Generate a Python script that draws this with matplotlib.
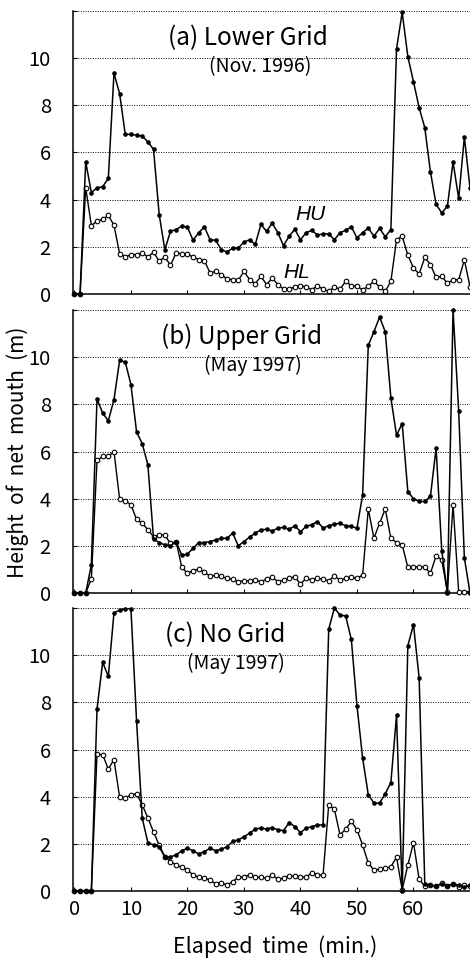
import numpy as np
import matplotlib.pyplot as plt

plt.rcParams['font.family'] = ['Noto Sans CJK JP', 'DejaVu Sans']

# height of the net mouth (m), one reading per minute
# HU = upper edge, HL = lower edge
hu_a = [0, 0, 5.6, 4.3, 4.5, 4.55, 4.9, 9.36, 8.5, 6.77, 6.77, 6.73, 6.7, 6.45, 6.13,
        3.37, 1.88, 2.66, 2.73, 2.88, 2.83, 2.28, 2.6, 2.85, 2.3, 2.28, 1.88, 1.78,
        1.95, 1.95, 2.2, 2.3, 2.1, 2.95, 2.66, 3.0, 2.6, 2.05, 2.45, 2.75, 2.3, 2.6,
        2.7, 2.5, 2.55, 2.55, 2.3, 2.6, 2.7, 2.85, 2.38, 2.6, 2.8, 2.45, 2.78, 2.43,
        2.73, 10.4, 11.94, 10.07, 9.0, 7.9, 7.05, 5.18, 3.8, 3.44, 3.72, 5.6, 4.05,
        6.66, 4.5]
hl_a = [0, 0, 4.5, 2.9, 3.09, 3.16, 3.33, 2.92, 1.71, 1.57, 1.67, 1.67, 1.74, 1.57,
        1.77, 1.39, 1.57, 1.22, 1.74, 1.71, 1.7, 1.56, 1.46, 1.42, 0.89, 0.96, 0.82,
        0.64, 0.61, 0.58, 0.96, 0.61, 0.44, 0.75, 0.4, 0.68, 0.4, 0.21, 0.21, 0.3,
        0.35, 0.3, 0.18, 0.35, 0.2, 0.11, 0.3, 0.2, 0.54, 0.35, 0.33, 0.18, 0.33,
        0.54, 0.3, 0.11, 0.54, 2.3, 2.45, 1.65, 1.1, 0.85, 1.55, 1.25, 0.7, 0.75,
        0.45, 0.6, 0.6, 1.45, 0.3]

hu_b = [0, 0, 0, 1.2, 8.23, 7.63, 7.3, 8.2, 9.86, 9.79, 8.84, 6.83, 6.33, 5.44,
        2.3, 2.14, 2.04, 2.0, 2.18, 1.6, 1.65, 1.9, 2.14, 2.14, 2.18, 2.25, 2.32,
        2.32, 2.54, 2.0, 2.18, 2.37, 2.54, 2.68, 2.7, 2.63, 2.75, 2.78, 2.7, 2.85,
        2.6, 2.82, 2.9, 3.03, 2.75, 2.86, 2.92, 2.96, 2.85, 2.82, 2.75, 4.16, 10.5,
        11.08, 11.7, 11.08, 8.27, 6.69, 7.18, 4.3, 4.0, 3.88, 3.88, 4.1, 6.15, 1.8,
        0.0, 12.0, 7.7, 1.5, 0.0]
hl_b = [0, 0, 0, 0.6, 5.62, 5.79, 5.79, 6.0, 3.98, 3.92, 3.74, 3.12, 2.96, 2.68,
        2.39, 2.46, 2.46, 2.1, 2.18, 1.09, 0.84, 0.95, 1.0, 0.9, 0.7, 0.76, 0.7,
        0.62, 0.58, 0.48, 0.52, 0.52, 0.55, 0.48, 0.58, 0.67, 0.48, 0.55, 0.62,
        0.69, 0.38, 0.62, 0.55, 0.62, 0.58, 0.52, 0.72, 0.55, 0.62, 0.67, 0.62,
        0.76, 3.56, 2.32, 2.96, 3.56, 2.32, 2.14, 2.04, 1.09, 1.09, 1.12, 1.09,
        0.84, 1.57, 1.4, 0.05, 3.75, 0.05, 0.05, 0.05]

hu_c = [0, 0, 0, 0, 7.72, 9.7, 9.1, 11.8, 11.9, 11.97, 11.97, 7.2, 3.09, 2.05,
        1.95, 1.88, 1.43, 1.45, 1.53, 1.71, 1.81, 1.71, 1.57, 1.67, 1.81, 1.71,
        1.77, 1.88, 2.1, 2.17, 2.3, 2.45, 2.62, 2.68, 2.62, 2.69, 2.59, 2.56, 2.9,
        2.73, 2.48, 2.66, 2.73, 2.8, 2.8, 11.1, 12.0, 11.7, 11.66, 10.67, 7.86,
        5.64, 4.08, 3.73, 3.73, 4.12, 4.6, 7.45, 0.0, 10.4, 11.3, 9.04, 0.3, 0.25,
        0.2, 0.3, 0.22, 0.3, 0.25, 0.15, 0.25]
hl_c = [0, 0, 0, 0, 5.8, 5.78, 5.17, 5.57, 3.98, 3.94, 4.08, 4.12, 3.65, 3.1,
        2.5, 1.95, 1.46, 1.25, 1.1, 1.0, 0.89, 0.68, 0.58, 0.54, 0.47, 0.3, 0.35,
        0.25, 0.4, 0.58, 0.6, 0.68, 0.58, 0.58, 0.54, 0.68, 0.5, 0.54, 0.64, 0.64,
        0.61, 0.58, 0.78, 0.68, 0.68, 3.65, 3.47, 2.38, 2.62, 2.95, 2.59, 1.95,
        1.18, 0.89, 0.92, 0.96, 1.03, 1.43, 0.05, 1.1, 2.05, 0.5, 0.2, 0.25, 0.2,
        0.33, 0.2, 0.3, 0.18, 0.25, 0.2]

titles = ['(a) Lower Grid', '(b) Upper Grid', '(c) No Grid']
dates = ['(Nov. 1996)', '(May 1997)', '(May 1997)']
title_x = [30.7, 29.5, 26.7]
date_x = [32.8, 31.6, 28.5]

series = [(hu_a, hl_a), (hu_b, hl_b), (hu_c, hl_c)]
bottoms = [1 - 294 / 958, 1 - 593 / 958, 1 - 891 / 958]
h_ax = 283 / 958
left = 73 / 470

fig = plt.figure(figsize=(4.70, 9.58), dpi=100)

for i in range(3):
    ax = fig.add_axes([left, bottoms[i], 1 - left, h_ax])
    hu, hl = series[i]
    ax.plot(np.arange(len(hl)), hl, '-', color='black', lw=1.0, marker='o',
            ms=3.3, mfc='white', mec='black', mew=0.8, clip_on=False, zorder=3)
    ax.plot(np.arange(len(hu)), hu, '-', color='black', lw=1.1, marker='o',
            ms=2.3, mfc='black', mec='black', clip_on=False, zorder=4)

    ax.set_xlim(-0.25, 70.0)
    ax.set_ylim(0, 12)
    ax.set_yticks([0, 2, 4, 6, 8, 10, 12])
    ax.set_yticklabels(['0', '2', '4', '6', '8', '10', ''])
    ax.set_xticks([0, 10, 20, 30, 40, 50, 60])
    ax.grid(axis='y', color='black', linestyle=(0, (1, 1.5)), linewidth=0.7)
    for s in ['top', 'right']:
        ax.spines[s].set_visible(False)
    ax.spines['left'].set_linewidth(1.1)
    ax.spines['bottom'].set_linewidth(1.1)
    ax.tick_params(axis='both', direction='in', length=3, width=0.8,
                   labelsize=14.5)
    ax.tick_params(axis='y', pad=16)
    ax.tick_params(axis='x', pad=6)
    if i < 2:
        ax.set_xticklabels([])

    ax.text(title_x[i], 10.87, titles[i], ha='center', va='center', fontsize=17.5)
    ax.text(date_x[i], 9.65, dates[i], ha='center', va='center', fontsize=14)

    if i == 0:
        ax.text(41.7, 3.35, 'HU', style='italic', family='Liberation Sans',
                ha='center', va='center', fontsize=15)
        ax.text(39.4, 0.9, 'HL', style='italic', family='Liberation Sans',
                ha='center', va='center', fontsize=15)

fig.text(0.038, 0.528, 'Height  of  net  mouth  (m)', rotation=90,
         ha='center', va='center', fontsize=15)
fig.text(0.585, 0.012, 'Elapsed  time  (min.)', ha='center', va='center',
         fontsize=15.5)

fig.savefig('out.png', dpi=100)
